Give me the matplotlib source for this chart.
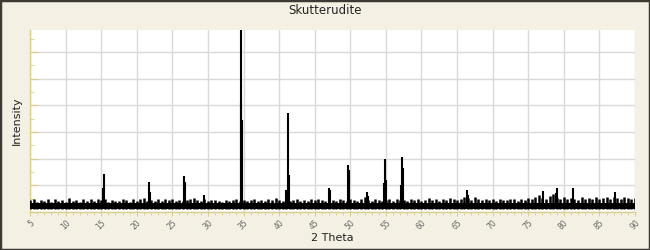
import numpy as np
import matplotlib.pyplot as plt
from matplotlib.ticker import MultipleLocator

# background counts every 0.5 deg from 5 to 90 (tips of the noise)
noise_start = 5.0
noise_step = 0.5
noise_top = [
    44, 49, 38, 46, 41, 47, 37, 48, 42, 45,   # 5 - 9.5
    39, 52, 41, 46, 38, 49, 43, 47, 40, 50,   # 10 - 14.5
    44, 48, 39, 46, 42, 40, 49, 45, 38, 47,   # 15 - 19.5
    41, 48, 52, 43, 46, 42, 50, 40, 47, 44,   # 20 - 24.5
    49, 42, 46, 40, 45, 48, 54, 46, 42, 49,   # 25 - 29.5
    41, 46, 44, 42, 38, 46, 41, 45, 48, 42,   # 30 - 34.5
    46, 40, 45, 49, 42, 46, 40, 48, 44, 51,   # 35 - 39.5
    46, 42, 47, 40, 44, 49, 42, 46, 41, 48,   # 40 - 44.5
    44, 50, 46, 42, 48, 44, 41, 49, 46, 42,   # 45 - 49.5
    48, 44, 41, 49, 55, 46, 42, 48, 44, 41,   # 50 - 54.5
    46, 49, 42, 48, 44, 46, 41, 49, 44, 48,   # 55 - 59.5
    42, 46, 51, 44, 48, 42, 49, 46, 52, 47,   # 60 - 64.5
    44, 49, 58, 52, 45, 55, 49, 45, 50, 44,   # 65 - 69.5
    48, 42, 49, 46, 44, 50, 47, 42, 49, 46,   # 70 - 74.5
    52, 47, 57, 62, 54, 50, 59, 66, 52, 48,   # 75 - 79.5
    57, 47, 53, 50, 45, 55, 48, 52, 47, 56,   # 80 - 84.5
    50, 53, 58, 48, 55, 51, 48, 57, 53, 50,   # 85 - 89.5
    51,                                       # 90
]
noise_bottom = 11
noise_core = 33

# reflections (2 theta, intensity)
peak_pos = [15.30, 15.44, 21.76, 21.90, 26.68, 26.82, 29.49,
            34.60, 34.69, 34.78, 41.00, 41.20, 41.39,
            47.00, 47.15, 49.72, 49.86, 52.35, 52.50,
            54.70, 54.92, 55.06, 57.17, 57.31, 57.45,
            66.44, 66.58, 77.03, 78.85, 79.04, 81.24, 87.23]
peak_int = [91, 142, 113, 76, 135, 113, 64,
            412, 690, 345, 82, 371, 139,
            91, 82, 176, 157, 74, 61,
            108, 198, 120, 101, 206, 165,
            82, 64, 79, 71, 89, 91, 76]

bg = '#f4f1e4'
axis_col = '#d8d08c'

fig = plt.figure(figsize=(6.5, 2.5), dpi=100, facecolor=bg)
ax = fig.add_axes([30 / 650, 1 - 212 / 250, 605 / 650, 182 / 250])
ax.set_facecolor('white')

x_noise = noise_start + noise_step * np.arange(len(noise_top))
ax.fill_between([5, 90], noise_bottom, noise_core, color='black',
                linewidth=0, zorder=3)
ax.vlines(x_noise, noise_bottom, noise_top, color='black', lw=1.8, zorder=3)
ax.vlines(peak_pos, noise_bottom, peak_int, color='black', lw=1.5, zorder=4)

ax.set_xlim(5, 90)
ax.set_ylim(0, 682)
ax.xaxis.set_major_locator(MultipleLocator(5))
ax.xaxis.set_minor_locator(MultipleLocator(1))
ax.yaxis.set_major_locator(MultipleLocator(100))
ax.yaxis.set_minor_locator(MultipleLocator(50))
ax.grid(True, which='major', color='#d9d9d9', lw=1)
ax.set_axisbelow(True)

for s in ['top', 'right']:
    ax.spines[s].set_visible(False)
for s in ['left', 'bottom']:
    ax.spines[s].set_color(axis_col)
    ax.spines[s].set_linewidth(1)

ax.tick_params(axis='y', which='both', direction='in', colors=axis_col,
               labelleft=False)
ax.tick_params(axis='y', which='major', length=6)
ax.tick_params(axis='y', which='minor', length=3)
ax.tick_params(axis='x', which='both', direction='out', colors=axis_col,
               length=3, pad=1.5, labelsize=5.5, labelcolor='#666666')
ax.tick_params(axis='x', which='minor', length=2)
for lab in ax.get_xticklabels():
    lab.set_rotation(45)
    lab.set_ha('right')
    lab.set_rotation_mode('anchor')

ax.set_xlabel('2 Theta', fontsize=8, color='#222222', labelpad=1)
ax.set_ylabel('Intensity', fontsize=8, color='#222222', labelpad=6)
fig.text(0.5, 1 - 10 / 250, 'Skutterudite', ha='center', va='center',
         fontsize=8.5, color='#222222')

# dark frame round the whole picture
fig.patches.append(plt.Rectangle((0, 0), 1, 1, transform=fig.transFigure,
                                 fill=False, edgecolor='#3c3a33', lw=2.5))

fig.savefig('out.png', dpi=100, facecolor=bg)
